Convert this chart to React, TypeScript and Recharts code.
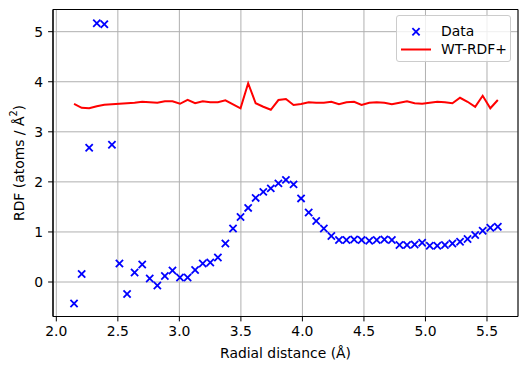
import React from "react";
import {
  ComposedChart,
  Scatter,
  Line,
  XAxis,
  YAxis,
  CartesianGrid,
  ReferenceArea,
} from "recharts";

// Radial distance (Å)
const radii: number[] = [
  2.144, 2.206, 2.267, 2.329, 2.39, 2.452, 2.513, 2.575, 2.636, 2.698,
  2.759, 2.821, 2.882, 2.944, 3.005, 3.067, 3.128, 3.19, 3.251, 3.313,
  3.374, 3.436, 3.497, 3.559, 3.62, 3.682, 3.743, 3.805, 3.866, 3.928,
  3.989, 4.051, 4.112, 4.174, 4.235, 4.297, 4.358, 4.42, 4.481, 4.543,
  4.604, 4.666, 4.727, 4.789, 4.85, 4.912, 4.973, 5.035, 5.096, 5.158,
  5.219, 5.281, 5.342, 5.404, 5.465, 5.527, 5.588,
];

// Measured RDF ("Data")
const rdfData: number[] = [
  -0.43, 0.16, 2.68, 5.17, 5.15, 2.74, 0.37, -0.24, 0.19, 0.35,
  0.07, -0.07, 0.12, 0.23, 0.09, 0.09, 0.24, 0.37, 0.39, 0.49,
  0.77, 1.07, 1.3, 1.48, 1.68, 1.8, 1.87, 1.97, 2.04, 1.95,
  1.67, 1.39, 1.22, 1.07, 0.92, 0.84, 0.84, 0.85, 0.84, 0.825,
  0.84, 0.85, 0.84, 0.74, 0.74, 0.75, 0.785, 0.725, 0.725, 0.74,
  0.77, 0.805, 0.86, 0.94, 1.025, 1.085, 1.105,
];

// Model RDF ("WT-RDF+")
const rdfModel: number[] = [
  3.556, 3.48, 3.47, 3.51, 3.54, 3.55, 3.56, 3.57, 3.58, 3.6,
  3.59, 3.58, 3.61, 3.61, 3.56, 3.64, 3.57, 3.61, 3.59, 3.59,
  3.63, 3.55, 3.47, 3.97, 3.57, 3.5, 3.44, 3.635, 3.655, 3.535,
  3.556, 3.59, 3.58, 3.58, 3.6, 3.55, 3.59, 3.6, 3.535, 3.58,
  3.59, 3.58, 3.55, 3.58, 3.61, 3.57, 3.56, 3.58, 3.6, 3.59,
  3.57, 3.68, 3.6, 3.5, 3.72, 3.47, 3.635,
];

const xTicks: number[] = [2.0, 2.5, 3.0, 3.5, 4.0, 4.5, 5.0, 5.5];
const yTicks: number[] = [0, 1, 2, 3, 4, 5];

const X_DOMAIN: [number, number] = [1.973, 5.752];
const Y_DOMAIN: [number, number] = [-0.689, 5.443];

const chartData = radii.map((r, i) => ({
  r,
  data: rdfData[i],
  model: rdfModel[i],
}));

const FONT = "DejaVu Sans, sans-serif";
const FS = 13.9;

const XMarker = (props: any) => {
  const { cx, cy } = props;
  if (cx == null || cy == null) return null;
  const s = 3.6;
  return (
    <g>
      <line x1={cx - s} y1={cy - s} x2={cx + s} y2={cy + s} stroke="#0000ff" strokeWidth={1.8} />
      <line x1={cx - s} y1={cy + s} x2={cx + s} y2={cy - s} stroke="#0000ff" strokeWidth={1.8} />
    </g>
  );
};

const YLabel = (props: any) => {
  const vb = props.viewBox || {};
  const cx = 18.5;
  const cy = (vb.y ?? 9.5) + (vb.height ?? 307) / 2;
  return (
    <text
      x={cx}
      y={cy}
      transform={`rotate(-90, ${cx}, ${cy})`}
      textAnchor="middle"
      dominantBaseline="central"
      fontFamily={FONT}
      fontSize={FS}
      fill="#000"
    >
      <tspan>RDF (atoms / Å</tspan>
      <tspan dy={-6} fontSize={9.7}>2</tspan>
      <tspan dy={6}>)</tspan>
    </text>
  );
};

const XLabel = (props: any) => {
  const vb = props.viewBox || {};
  const cx = (vb.x ?? 53) + (vb.width ?? 465) / 2;
  return (
    <text
      x={cx}
      y={353}
      textAnchor="middle"
      dominantBaseline="central"
      fontFamily={FONT}
      fontSize={FS}
      fill="#000"
    >
      Radial distance (Å)
    </text>
  );
};

export default function App() {
  return (
    <div style={{ position: "absolute", left: 0, top: 0, width: 528, height: 371, background: "#fff" }}>
      <ComposedChart
        width={528}
        height={371}
        data={chartData}
        margin={{ top: 9.5, right: 10, bottom: 0, left: 0 }}
      >
        <CartesianGrid stroke="#b0b0b0" strokeWidth={1} />
        <XAxis
          dataKey="r"
          type="number"
          domain={X_DOMAIN}
          ticks={xTicks}
          allowDataOverflow
          tickFormatter={(v: number) => v.toFixed(1)}
          height={54.5}
          tickSize={4.9}
          tickMargin={5.2}
          axisLine={{ stroke: "#000" }}
          tickLine={{ stroke: "#000" }}
          tick={{ fill: "#000", fontFamily: FONT, fontSize: FS }}
          label={{ content: XLabel }}
        />
        <YAxis
          type="number"
          domain={Y_DOMAIN}
          ticks={yTicks}
          allowDataOverflow
          width={53}
          tickSize={4.9}
          tickMargin={4.9}
          axisLine={{ stroke: "#000" }}
          tickLine={{ stroke: "#000" }}
          tick={{ fill: "#000", fontFamily: FONT, fontSize: FS }}
          label={{ content: YLabel }}
        />
        <ReferenceArea
          x1={X_DOMAIN[0]}
          x2={X_DOMAIN[1]}
          y1={Y_DOMAIN[0]}
          y2={Y_DOMAIN[1]}
          fill="none"
          fillOpacity={0}
          stroke="#000"
          strokeWidth={1}
          ifOverflow="visible"
        />
        <Scatter dataKey="data" shape={XMarker} isAnimationActive={false} />
        <Line
          dataKey="model"
          type="linear"
          stroke="#ff0000"
          strokeWidth={2}
          dot={false}
          activeDot={false}
          isAnimationActive={false}
        />
      </ComposedChart>
      <div
        style={{
          position: "absolute",
          left: 396,
          top: 15,
          width: 115,
          height: 47,
          boxSizing: "border-box",
          border: "1px solid #cccccc",
          borderRadius: 3,
          background: "rgba(255,255,255,0.8)",
          fontFamily: FONT,
          fontSize: FS,
          color: "#000",
        }}
      >
        <svg width={44} height={45} style={{ position: "absolute", left: 0, top: 0 }}>
          <line x1={15.4} y1={12.1} x2={22.6} y2={19.3} stroke="#0000ff" strokeWidth={1.8} />
          <line x1={15.4} y1={19.3} x2={22.6} y2={12.1} stroke="#0000ff" strokeWidth={1.8} />
          <line x1={4} y1={33.5} x2={34} y2={33.5} stroke="#ff0000" strokeWidth={2} />
        </svg>
        <div style={{ position: "absolute", left: 44, top: 15.7 - 8.5, lineHeight: "17px", whiteSpace: "nowrap" }}>Data</div>
        <div style={{ position: "absolute", left: 44, top: 33.5 - 8.5, lineHeight: "17px", whiteSpace: "nowrap" }}>WT-RDF+</div>
      </div>
    </div>
  );
}
